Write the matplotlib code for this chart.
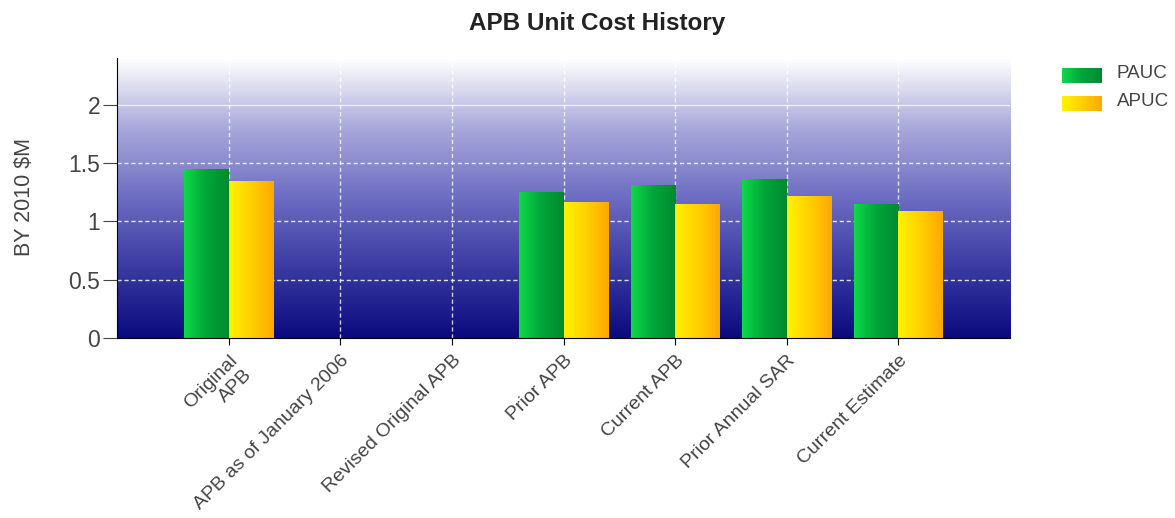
import numpy as np
import matplotlib
matplotlib.use("Agg")
import matplotlib.pyplot as plt
from matplotlib.colors import LinearSegmentedColormap

plt.rcParams['font.family'] = ['Liberation Sans', 'DejaVu Sans']

categories = ["Original\nAPB", "APB as of January 2006", "Revised Original APB",
              "Prior APB", "Current APB", "Prior Annual SAR", "Current Estimate"]
pauc = [1.45, 0, 0, 1.25, 1.31, 1.36, 1.15]
apuc = [1.35, 0, 0, 1.17, 1.15, 1.22, 1.09]
series_names = ["PAUC", "APUC"]

fig = plt.figure(figsize=(11.75, 5.18), dpi=100)
ax = fig.add_axes([0.0996, 0.3475, 0.76, 0.5405])

# background: white at top fading to navy at the bottom
bg = LinearSegmentedColormap.from_list(
    "bg", [(0.0, "#0a0a7e"), (0.25, "#3a3aa2"), (0.5, "#6c6cc2"),
           (0.75, "#a8a8dc"), (0.92, "#e4e4f4"), (1.0, "#ffffff")])
ax.imshow(np.linspace(0, 1, 256).reshape(-1, 1), cmap=bg, origin="lower",
          aspect="auto", extent=[0, 1, 0, 1], transform=ax.transAxes, zorder=0)

green = LinearSegmentedColormap.from_list("g", ["#10d848", "#00a53a", "#008a30"])
yellow = LinearSegmentedColormap.from_list("y", ["#fff200", "#ffd000", "#ffa800"])

x = np.arange(len(categories))
w = 0.4
grad = np.linspace(0, 1, 64).reshape(1, -1)
for vals, off, cm in [(pauc, -w / 2, green), (apuc, w / 2, yellow)]:
    bars = ax.bar(x + off, vals, w, color="none", zorder=3)
    for b in bars:
        if b.get_height() <= 0:
            continue
        x0, y0 = b.get_x(), b.get_y()
        im = ax.imshow(grad, cmap=cm, aspect="auto", zorder=3,
                       extent=[x0, x0 + b.get_width(), y0, y0 + b.get_height()])
        im.set_clip_path(b)

ax.set_xlim(-1, len(categories))
ax.set_ylim(0, 2.4)
ax.set_yticks([0, 0.5, 1, 1.5, 2])
ax.set_yticklabels(["0", "0.5", "1", "1.5", "2"])
ax.set_xticks(x)
ax.set_xticklabels(categories, rotation=45, ha="right", rotation_mode="anchor",
                   fontsize=14, color="#444444", linespacing=1.25)
ax.tick_params(axis="y", labelsize=16.5, colors="#444444", length=10, pad=2)
ax.tick_params(axis="x", length=5, pad=5)

for v in [0.5, 1, 1.5]:
    ax.axhline(v, color="white", lw=1, ls=(0, (3, 2)), alpha=0.85, zorder=1)
ax.axhline(2, color="white", lw=1, alpha=0.7, zorder=1)
for xi in x:
    ax.axvline(xi, color="white", lw=1, ls=(0, (3, 2)), alpha=0.8, zorder=1)

for s in ["top", "right"]:
    ax.spines[s].set_visible(False)
ax.spines["left"].set_color("black")
ax.spines["bottom"].set_color("black")
ax.spines["left"].set_zorder(5)
ax.spines["bottom"].set_zorder(5)

fig.text(0.0205, 0.62, "BY 2010 $M", rotation=90, ha="center", va="center",
         fontsize=15.5, color="#444444")
fig.text(0.508, 0.955, "APB Unit Cost History", ha="center", va="center",
         fontsize=17.5, fontweight="bold", color="#222222")

# legend swatches with the same gradients
for i, (name, cm) in enumerate(zip(series_names, [green, yellow])):
    lax = fig.add_axes([0.9038, 0.840 - i * 0.054, 0.034, 0.029])
    lax.imshow(grad, cmap=cm, aspect="auto")
    lax.axis("off")
    fig.text(0.9505, 0.858 - i * 0.054, name, ha="left", va="center",
             fontsize=13.5, color="#444444")

fig.savefig("out.png", dpi=100)
